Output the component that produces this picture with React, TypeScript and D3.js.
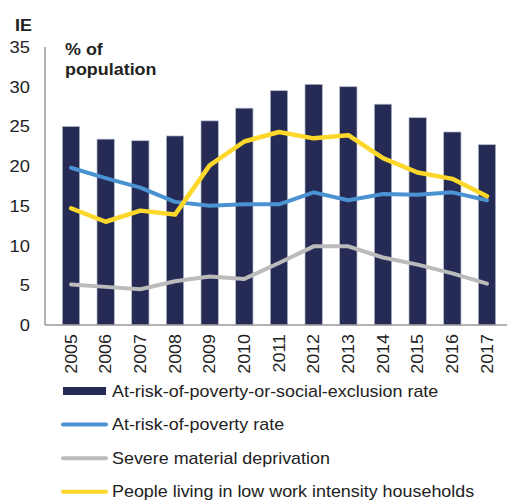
import { useRef, useEffect } from 'react';
import * as d3 from 'd3';

const years = ['2005', '2006', '2007', '2008', '2009', '2010', '2011', '2012', '2013', '2014', '2015', '2016', '2017'];
const aropeRate = [25.0, 23.4, 23.2, 23.8, 25.7, 27.3, 29.5, 30.3, 30.0, 27.8, 26.1, 24.3, 22.7];
const aropRate = [19.8, 18.5, 17.3, 15.5, 15.0, 15.2, 15.2, 16.7, 15.7, 16.5, 16.4, 16.7, 15.7];
const severeDeprivation = [5.1, 4.8, 4.5, 5.5, 6.1, 5.8, 7.8, 9.9, 9.9, 8.5, 7.6, 6.5, 5.2];
const lowWorkIntensity = [14.7, 13.0, 14.4, 13.9, 20.1, 23.1, 24.3, 23.5, 23.9, 21.0, 19.2, 18.4, 16.2];
const yTicks = [0, 5, 10, 15, 20, 25, 30, 35];

const legendItems = [
  { label: 'At-risk-of-poverty-or-social-exclusion rate', color: '#252b55', type: 'bar' },
  { label: 'At-risk-of-poverty rate', color: '#4b92d2', type: 'line' },
  { label: 'Severe material deprivation', color: '#bbbbbb', type: 'line' },
  { label: 'People living in low work intensity households', color: '#fdd72a', type: 'line' },
];

export default function App() {
  const svgRef = useRef(null);
  const width = 507;
  const height = 502;

  useEffect(() => {
    const svg = d3.select(svgRef.current);
    svg.selectAll('*').remove();
    const font = 'Liberation Sans, Arial, sans-serif';
    const stretch = 1.12; // the source font runs a bit wide
    const left = 45;
    const bottom = 325;
    const top = 47;

    const x = d3.scaleBand().domain(years).range([left, left + 13 * 36]).padding(0.5);
    const y = d3.scaleLinear().domain([0, 35]).range([bottom, top]);

    svg
      .selectAll('rect.bar')
      .data(aropeRate)
      .join('rect')
      .attr('class', 'bar')
      .attr('x', (_, i) => x(years[i]))
      .attr('width', x.bandwidth())
      .attr('y', (d) => y(d))
      .attr('height', (d) => y(0) - y(d))
      .attr('fill', '#252b55')
      .attr('stroke', '#b8bccb')
      .attr('stroke-width', 0.7);

    const line = d3
      .line<number>()
      .x((_, i) => x(years[i]) + x.bandwidth() / 2)
      .y((d) => y(d));

    const series = [
      { data: severeDeprivation, color: '#bbbbbb', w: 4 },
      { data: aropRate, color: '#4b92d2', w: 4 },
      { data: lowWorkIntensity, color: '#fdd72a', w: 4.5 },
    ];
    series.forEach((s) => {
      svg
        .append('path')
        .attr('d', line(s.data))
        .attr('fill', 'none')
        .attr('stroke', s.color)
        .attr('stroke-width', s.w)
        .attr('stroke-linejoin', 'round')
        .attr('stroke-linecap', 'round');
    });

    // axes
    svg.append('line').attr('x1', left).attr('x2', left).attr('y1', top).attr('y2', bottom)
      .attr('stroke', '#999').attr('stroke-width', 1.5);
    svg.append('line').attr('x1', left).attr('x2', width).attr('y1', bottom).attr('y2', bottom)
      .attr('stroke', '#999').attr('stroke-width', 1.5);

    svg
      .selectAll('text.ytick')
      .data(yTicks)
      .join('text')
      .attr('class', 'ytick')
      .attr('transform', (d) => `translate(30,${y(d)}) scale(1.08,1)`)
      .attr('dy', '0.35em')
      .attr('text-anchor', 'end')
      .attr('font-family', font)
      .attr('font-size', 17)
      .attr('fill', '#222')
      .text((d) => d);

    svg
      .selectAll('text.xtick')
      .data(years)
      .join('text')
      .attr('class', 'xtick')
      .attr('transform', (d) => `translate(${x(d) + x.bandwidth() / 2},334) rotate(-90) scale(${stretch},1)`)
      .attr('dy', '0.35em')
      .attr('text-anchor', 'end')
      .attr('font-family', font)
      .attr('font-size', 16)
      .attr('fill', '#222')
      .text((d) => d);

    const title = (txt, tx, ty) =>
      svg.append('text').attr('transform', `translate(${tx},${ty}) scale(${stretch},1)`)
        .attr('font-family', font).attr('font-size', 16)
        .attr('font-weight', 700).attr('fill', '#222').text(txt);
    title('IE', 15, 31);
    title('% of', 65, 55);
    title('population', 65, 75);

    // legend
    const lg = svg
      .selectAll('g.legend')
      .data(legendItems)
      .join('g')
      .attr('class', 'legend')
      .attr('transform', (_, i) => `translate(0,${391 + i * 33.6})`);
    lg.each(function (d) {
      const g = d3.select(this);
      if (d.type === 'bar') {
        g.append('rect').attr('x', 63).attr('y', -4).attr('width', 43).attr('height', 8).attr('fill', d.color);
      } else {
        g.append('line').attr('x1', 63).attr('x2', 106).attr('y1', 0).attr('y2', 0)
          .attr('stroke', d.color).attr('stroke-width', 4).attr('stroke-linecap', 'round');
      }
    });
    lg.append('text')
      .attr('transform', `translate(112,0) scale(${stretch},1)`)
      .attr('dy', '0.35em')
      .attr('font-family', font)
      .attr('font-size', 16)
      .attr('fill', '#222')
      .text((d) => d.label);
  }, []);

  return (
    <svg ref={svgRef} width={width} height={height} style={{ position: 'absolute', left: 0, top: 0 }}></svg>
  );
}
